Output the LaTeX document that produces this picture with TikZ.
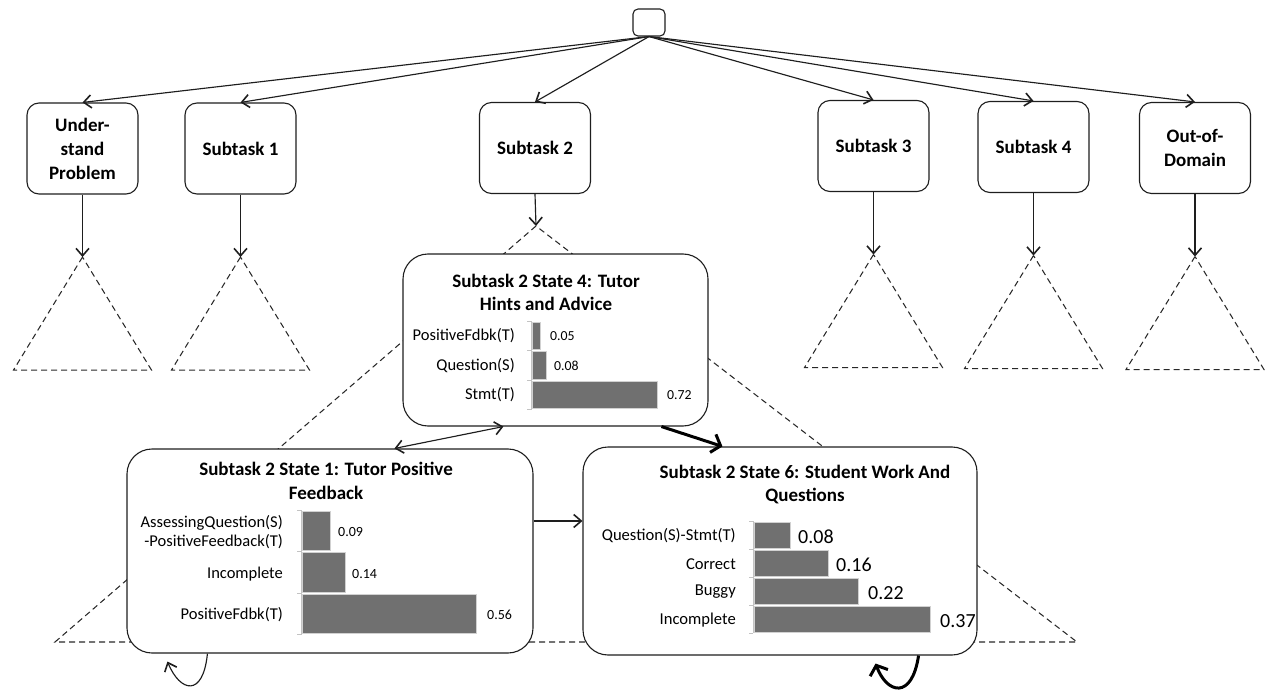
\documentclass[tikz,border=0pt]{standalone}
\usepackage{fontspec}
\setmainfont{Carlito}
\usetikzlibrary{arrows.meta}
\definecolor{ln}{RGB}{30,30,30}
\definecolor{barc}{RGB}{112,112,112}
\definecolor{axc}{RGB}{195,195,195}
\definecolor{dashc}{RGB}{40,40,40}
\begin{document}
\begin{tikzpicture}[x=1pt,y=-1pt,
  topbox/.style={draw=ln, line width=1.1pt, rounded corners=12pt, fill=white,
    minimum width=111pt, minimum height=91pt, inner sep=0pt, align=center,
    font=\fontsize{19}{24}\selectfont\bfseries},
  statebox/.style={draw=ln, line width=1.1pt, rounded corners=25pt, fill=white, inner sep=0pt},
  titletxt/.style={inner sep=0pt, align=center, font=\fontsize{19}{23.5}\selectfont\bfseries},
  lab/.style={inner sep=0pt, anchor=east, align=right},
  val/.style={inner sep=0pt, anchor=west},
  tipx/.tip={Straight Barb[length=7.5pt,width=13pt,line width=1.6pt]},
  conn/.style={draw=ln, line width=1.15pt, -tipx},
  dconn/.style={draw=ln, line width=1.15pt, tipx-tipx},
  thickconn/.style={draw=black, line width=3pt, -{Straight Barb[length=8pt,width=19pt]}},
  dashtri/.style={draw=dashc, line width=1.05pt, dash pattern=on 6pt off 4pt},
  bar/.style={fill=barc, draw=black!18, line width=0.6pt},
  axisline/.style={draw=axc, line width=0.8pt}
]
\useasboundingbox (0,0) rectangle (1267,690);

% root and top level
\node[draw=ln, line width=1.1pt, rounded corners=5pt, minimum width=32pt, minimum height=27pt, inner sep=0pt, fill=white] (root) at (649,22.5) {};
\node[topbox] (under) at (82.5,148.5) {Under-\\stand\\Problem};
\node[topbox] (sub1) at (240.5,148.5) {Subtask 1};
\node[topbox] (sub2) at (535,148) {Subtask 2};
\node[topbox] (sub3) at (873.5,146) {Subtask 3};
\node[topbox] (sub4) at (1033.5,147) {Subtask 4};
\node[topbox] (ood) at (1195,148) {Out-of-\\Domain};

\foreach \n in {under,sub1,sub2,sub3,sub4,ood}
  \draw[conn] (root.south) -- (\n.north);

% small sub-trees
\foreach \n in {under,sub1,sub3,sub4,ood}{
  \coordinate (\n apex) at ([yshift=-62.5pt]\n.south);
  \draw[dashtri] (\n apex) -- ++(-69,113) -- ++(138,0) -- cycle;
  \draw[conn] (\n.south) -- (\n apex);
}

% big sub-tree of Subtask 2
\coordinate (bigapex) at (536,226);
\coordinate (bigL) at (55,642);
\coordinate (bigR) at (1077,642);
\draw[dashtri] (bigapex) -- (bigL) -- (bigR) -- cycle;
\draw[conn] (sub2.south) -- (bigapex);

% state boxes
\node[statebox, minimum width=305pt, minimum height=172pt] (s4) at (555.5,340) {};
\node[statebox, minimum width=406pt, minimum height=204pt] (s1) at (330,551) {};
\node[statebox, minimum width=394pt, minimum height=208pt] (s6) at (780,551) {};

% ---- State 4 ----
\node[titletxt] (s4t) at (546,292.5) {Subtask 2 State 4: Tutor\\Hints and Advice};
\draw[axisline] (531,321) -- (531,409.5);
\foreach \yy in {321,350.5,380,409.5} \draw[axisline] (527,\yy) -- (531,\yy);
\fill[bar] (532,322) rectangle ++(8.7,27.5);
\fill[bar] (532,351.5) rectangle ++(13.9,27.5);
\fill[bar] (532,381) rectangle ++(125,27.5);
\begin{scope}[font=\fontsize{16.5}{19}\selectfont]
\node[lab] (s4l1) at (515,336) {PositiveFdbk(T)};
\node[lab] (s4l2) at (515,365.5) {Question(S)};
\node[lab] (s4l3) at (515,395) {Stmt(T)};
\end{scope}
\begin{scope}[font=\fontsize{13.8}{16}\selectfont]
\node[val] (s4v1) at (550,336) {0.05};
\node[val] (s4v2) at (554,365.5) {0.08};
\node[val] (s4v3) at (667,395) {0.72};
\end{scope}

% ---- State 1 ----
\node[titletxt] (s1t) at (326,481) {Subtask 2 State 1: Tutor Positive\\Feedback};
\draw[axisline] (301,510) -- (301,634.5);
\foreach \yy in {510,551.5,593,634.5} \draw[axisline] (297,\yy) -- (301,\yy);
\fill[bar] (302,511) rectangle ++(28.1,39.5);
\fill[bar] (302,552.5) rectangle ++(43.7,39.5);
\fill[bar] (302,594) rectangle ++(174.7,39.5);
\begin{scope}[font=\fontsize{16.5}{19.5}\selectfont]
\node[lab] (s1l1) at (283,532) {AssessingQuestion(S)\\-PositiveFeedback(T)};
\node[lab] (s1l2) at (283,574) {Incomplete};
\node[lab] (s1l3) at (283,615) {PositiveFdbk(T)};
\end{scope}
\begin{scope}[font=\fontsize{14}{16}\selectfont]
\node[val] (s1v1) at (338,532) {0.09};
\node[val] (s1v2) at (352,574) {0.14};
\node[val] (s1v3) at (487,615) {0.56};
\end{scope}

% ---- State 6 ----
\node[titletxt] (s6t) at (805,484.5) {Subtask 2 State 6: Student Work And\\Questions};
\draw[axisline] (753,521) -- (753,633);
\foreach \yy in {521,549,577,605,633} \draw[axisline] (749,\yy) -- (753,\yy);
\fill[bar] (754,522) rectangle ++(36.2,26);
\fill[bar] (754,550) rectangle ++(74.5,26);
\fill[bar] (754,578) rectangle ++(104.2,26);
\fill[bar] (754,606) rectangle ++(176,26);
\begin{scope}[font=\fontsize{16.6}{19}\selectfont]
\node[lab] (s6l1) at (736,536) {Question(S)-Stmt(T)};
\node[lab] (s6l2) at (736,564) {Correct};
\node[lab] (s6l3) at (736,592) {Buggy};
\node[lab] (s6l4) at (736,620) {Incomplete};
\end{scope}
\begin{scope}[font=\fontsize{20}{22}\selectfont]
\node[val] (s6v1) at (798,537) {0.08};
\node[val] (s6v2) at (836,565) {0.16};
\node[val] (s6v3) at (868,593) {0.22};
\node[val] (s6v4) at (940,621) {0.37};
\end{scope}

% ---- transitions ----
\draw[dconn] ([xshift=268pt]s1.north west) -- ([xshift=101pt]s4.south west);
\draw[thickconn] ([xshift=259pt]s4.south west) -- ([xshift=140pt]s6.north west);
\draw[conn] ([yshift=30pt]s1.east) -- ([yshift=30pt]s6.west);
\draw[conn] ([xshift=81pt]s1.south west) .. controls (203,698) and (180,692) .. ([xshift=41pt,yshift=-8pt]s1.south west);
\draw[thickconn] ([xshift=-59pt]s6.south east) .. controls (912,700) and (887,694) .. ([xshift=-102pt,yshift=-8pt]s6.south east);
\end{tikzpicture}
\end{document}
